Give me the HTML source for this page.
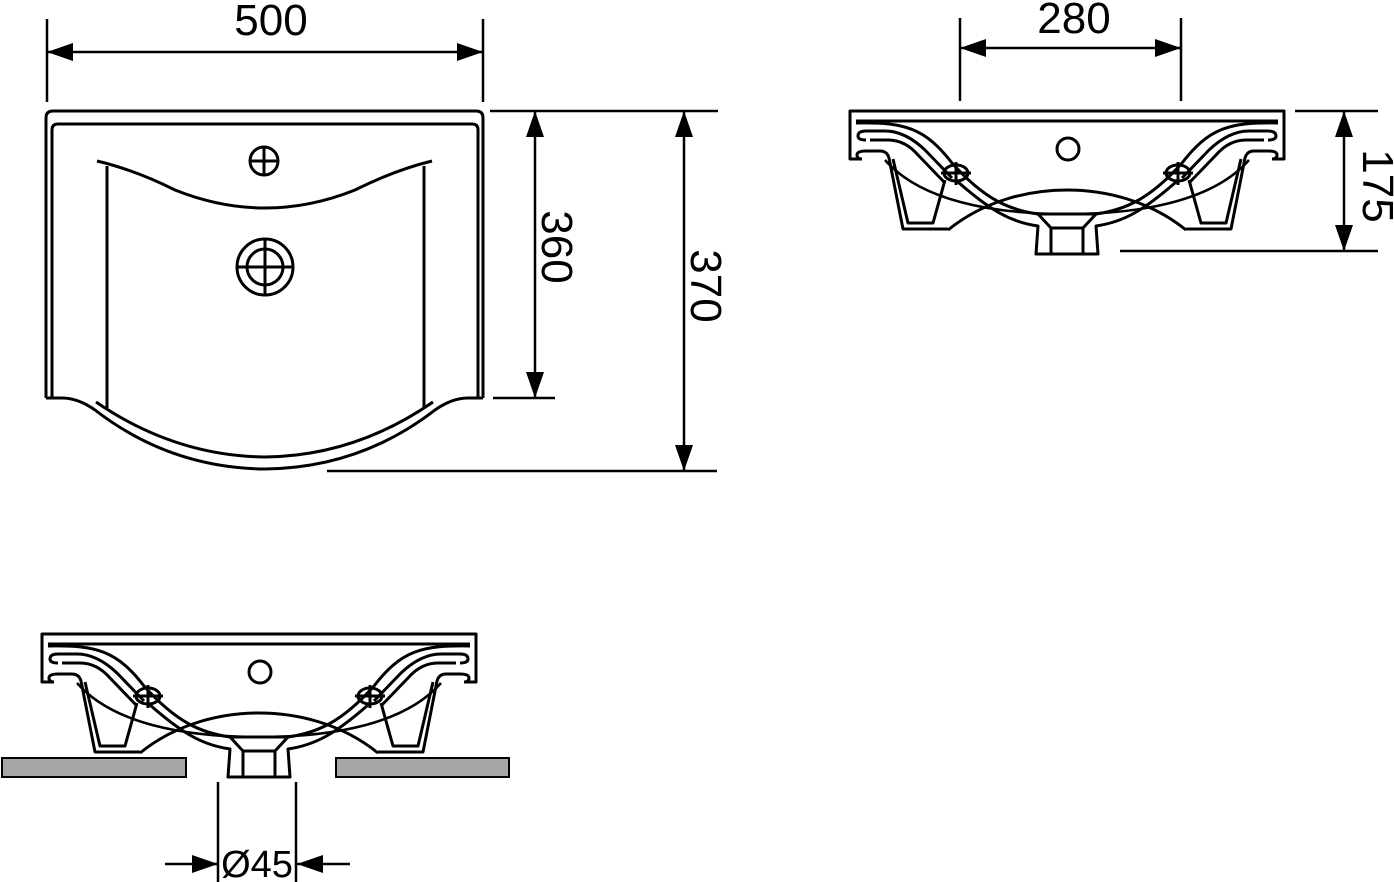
<!DOCTYPE html>
<html><head><meta charset="utf-8"><style>
html,body{margin:0;padding:0;background:#fff;width:1394px;height:882px;overflow:hidden}
svg{display:block}
text{font-family:"Liberation Sans",Arial,sans-serif;fill:#000}
</style></head><body>
<svg width="1394" height="882" viewBox="0 0 1394 882" xmlns="http://www.w3.org/2000/svg">
<defs>
<marker id="a" viewBox="0 0 26 18" refX="26" refY="9" markerWidth="26" markerHeight="18" markerUnits="userSpaceOnUse" orient="auto-start-reverse"><path d="M0,0 L26,9 L0,18 Z" fill="#000"/></marker>
<g id="half" fill="none" stroke="#000" stroke-width="3" stroke-linejoin="round">
  <path d="M1067,111 H850 V159 H862"/>
  <path d="M1067,121 H856"/>
  <path d="M862,159 Q857,159 857,155 Q857,151 866,151 H880 Q887,151 889,158 L903,229 H948"/>
  <path d="M893,159 L908,223 H933 L945,180"/>
  <path d="M866,140 Q858,140 858,136 Q858,131 866,131 H885 Q905,131 925,150 L952,178"/>
  <path d="M870,140 H888 Q905,140 918,155 L945,183"/>
  <path d="M856,123 C905,122 925,128 952,163 C985,200 1010,210 1038,214 H1067" />
  <path d="M948,230 C985,200 1030,190 1067,190"/>
  <path d="M885,160 C920,200 990,214 1067,214" stroke-width="2.5"/>
  <path d="M958,182 C990,210 1010,222 1038,226 L1036,254 H1067"/>
  <path d="M1038,214 L1051,228 V254"/>
  <path d="M1051,228 H1067"/>
  <ellipse cx="956" cy="173" rx="12" ry="8"/>
  <path d="M941,173 H971 M956,162 V185"/>
</g>
<g id="side">
  <use href="#half"/>
  <use href="#half" transform="translate(2134,0) scale(-1,1)"/>
  <circle cx="1068" cy="149" r="11" fill="none" stroke="#000" stroke-width="3"/>
</g>
</defs>

<g fill="none" stroke="#000" stroke-width="3">
  <path d="M46,398 V118 Q46,111 53,111 H476 Q483,111 483,118 V398"/>
  <path d="M52,398 V130 Q52,124 58,124 H472 Q478,124 478,130 V398"/>
  <path d="M46,398 H62 Q78,398 95,410 Q170,468 265,469 Q360,468 435,410 Q452,398 468,398 H483"/>
  <path d="M96,402 Q175,456 265,457 Q355,456 433,402"/>
  <path d="M97,161 Q135,170 175,190 Q220,208 265,208 Q310,208 355,190 Q395,170 432,161"/>
  <path d="M107,166 V408 M424,166 V408"/>
  <circle cx="264" cy="161" r="14"/>
  <path d="M250,161 H278 M264,147 V175"/>
  <circle cx="265" cy="267" r="28"/>
  <circle cx="265" cy="267" r="18"/>
  <path d="M237,267 H293 M265,239 V295"/>
</g>
<g stroke="#000" stroke-width="2.5" fill="none">
  <path d="M47,19 V102 M483,19 V102"/>
  <path d="M47,52 H483" marker-start="url(#a)" marker-end="url(#a)"/>
  <path d="M490,111 H718 M493,398 H555 M327,471 H717"/>
  <path d="M535,111 V398" marker-start="url(#a)" marker-end="url(#a)"/>
  <path d="M684,111 V471" marker-start="url(#a)" marker-end="url(#a)"/>
</g>
<text x="271" y="35" font-size="44" text-anchor="middle">500</text>
<text transform="translate(542,247) rotate(90)" font-size="44" text-anchor="middle">360</text>
<text transform="translate(691,286) rotate(90)" font-size="44" text-anchor="middle">370</text>

<use href="#side"/>
<g stroke="#000" stroke-width="2.5" fill="none">
  <path d="M960,18 V101 M1181,18 V101"/>
  <path d="M960,48 H1181" marker-start="url(#a)" marker-end="url(#a)"/>
  <path d="M1295,111 H1378 M1120,251 H1378"/>
  <path d="M1344,111 V251" marker-start="url(#a)" marker-end="url(#a)"/>
</g>
<text x="1074" y="33" font-size="44" text-anchor="middle">280</text>
<text transform="translate(1363,186) rotate(90)" font-size="44" text-anchor="middle">175</text>

<use href="#side" transform="translate(-808,523)"/>
<g fill="#a6a6a6" stroke="#000" stroke-width="2">
  <rect x="2" y="758" width="184" height="19"/>
  <rect x="336" y="758" width="173" height="19"/>
</g>
<g stroke="#000" stroke-width="2.5" fill="none">
  <path d="M218,782 V882 M296,782 V882"/>
  <path d="M165,864 H218" marker-end="url(#a)"/>
  <path d="M350,864 H297" marker-end="url(#a)"/>
</g>
<text x="257" y="877" font-size="38" text-anchor="middle">Ø45</text>
</svg>
</body></html>
